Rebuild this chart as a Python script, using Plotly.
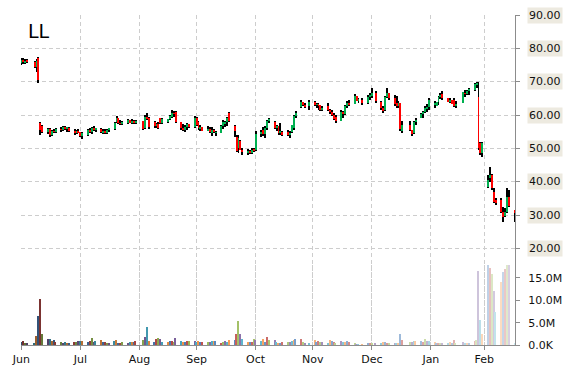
import pandas as pd
import plotly.graph_objects as go

# ---------------- data ----------------
TICKER = "LL"
HOLIDAYS = ["2014-07-04", "2014-09-01", "2014-11-27", "2014-12-25",
            "2015-01-01", "2015-01-19", "2015-02-16"]
dates = pd.bdate_range("2014-06-30", "2015-03-16", freq="C", holidays=HOLIDAYS)

open_ = [
    75.5, 76.6, 75.8, 76.3,
    76.0, 74.4, 77.0, 57.5, 56.8,
    55.0, 55.8, 54.0, 55.2, 54.9,
    55.8, 55.5, 56.3, 55.8, 56.2,
    55.3, 54.5, 55.2, 54.8, 53.8,
    54.0, 55.5, 54.8, 56.0, 55.5,
    55.9, 54.8, 55.3, 54.6, 55.5,
    55.9, 57.8, 59.0, 57.5, 57.3,
    57.7, 58.4, 57.7, 58.2, 57.6,
    58.2, 56.0, 59.5, 59.0,
    58.0, 56.6, 57.4, 59.0, 57.6,
    57.8, 58.7, 59.3, 60.6, 61.0,
    57.9, 56.0, 55.4, 56.5, 57.2,
    56.5, 59.2, 57.8, 56.0, 56.3,
    55.3, 55.8, 54.6, 55.4, 54.6,
    54.7, 56.8, 57.5, 57.8, 60.5,
    56.8, 53.5, 50.1, 52.1, 49.6,
    48.8, 49.2, 48.6, 49.5, 49.4,
    54.4, 55.5, 54.2, 56.0, 58.3,
    58.0, 56.2, 56.6, 54.6, 55.0,
    55.0, 54.0, 54.8, 56.0, 59.6,
    62.3, 63.8, 63.0, 62.6,
    64.0, 63.0, 63.2, 63.0, 61.4,
    62.6, 61.5, 61.0, 60.0, 59.4,
    58.3, 60.8, 60.2, 62.6, 63.6,
    63.4, 65.6, 64.3, 64.6,
    63.6, 65.5, 65.8, 66.5,
    64.0, 62.0, 61.5, 65.3, 66.6,
    65.0, 63.5, 62.6, 63.5, 55.3,
    57.0, 55.4, 54.6, 57.8,
    59.1, 60.4, 60.8, 62.0, 62.3,
    63.0, 62.7, 63.8, 65.4, 66.3,
    65.0, 64.0, 64.5, 64.5, 62.8,
    63.6, 66.5, 66.3, 67.3,
    67.6, 69.2, 65.5, 51.5, 48.5,
    38.5, 41.0, 42.0, 37.0, 34.5,
    34.5, 31.0, 29.6, 31.0, 35.5,
    31.5,
]
high = [
    77.0, 77.0, 76.8, 76.9,
    76.2, 76.7, 77.5, 58.0, 57.0,
    56.2, 56.0, 55.5, 55.8, 56.0,
    56.5, 56.7, 56.8, 56.5, 56.4,
    55.7, 55.6, 55.7, 55.0, 54.8,
    55.8, 56.0, 56.5, 56.7, 56.2,
    56.0, 55.7, 55.7, 55.8, 56.1,
    57.9, 59.6, 59.2, 58.4, 58.1,
    58.8, 58.6, 58.8, 58.4, 58.6,
    58.3, 60.0, 60.6, 59.3,
    58.1, 57.6, 57.8, 59.1, 59.1,
    58.9, 60.1, 61.4, 61.2, 61.2,
    57.9, 57.4, 57.1, 57.6, 57.4,
    59.6, 59.4, 58.1, 57.1, 56.4,
    56.6, 56.4, 56.4, 55.8, 55.1,
    57.1, 58.4, 58.2, 59.4, 60.8,
    57.0, 54.0, 54.1, 52.4, 50.1,
    49.8, 49.5, 50.1, 50.0, 55.1,
    55.5, 56.5, 56.8, 58.6, 59.1,
    58.1, 57.1, 56.8, 57.6, 55.1,
    55.6, 55.1, 57.1, 60.0, 61.3,
    64.6, 64.0, 63.6, 64.6,
    64.1, 63.6, 63.6, 63.1, 62.6,
    63.6, 61.8, 61.6, 60.7, 60.0,
    61.6, 61.3, 63.0, 64.3, 64.6,
    66.3, 65.8, 65.1, 65.1,
    66.1, 66.6, 68.1, 67.1,
    64.1, 62.6, 65.6, 68.1, 66.6,
    66.1, 65.6, 64.1, 63.6, 58.1,
    58.1, 55.6, 58.1, 59.1,
    60.6, 61.1, 62.6, 63.3, 65.1,
    64.1, 63.9, 65.6, 66.6, 67.1,
    65.2, 65.0, 64.6, 65.2, 64.2,
    67.0, 67.5, 67.5, 68.2,
    69.5, 70.0, 70.0, 52.0, 52.0,
    42.0, 44.5, 42.2, 38.0, 35.0,
    35.0, 32.5, 32.0, 38.0, 37.5,
    31.6,
]
low = [
    75.0, 75.3, 75.2, 75.5,
    74.0, 73.0, 69.7, 54.0, 54.5,
    54.3, 53.5, 53.8, 54.6, 54.6,
    55.0, 55.2, 55.4, 55.0, 55.0,
    54.0, 54.2, 54.5, 53.5, 52.7,
    53.6, 54.5, 54.3, 55.2, 54.8,
    54.5, 54.2, 54.3, 54.3, 54.8,
    55.6, 57.6, 57.2, 57.0, 56.9,
    57.3, 57.5, 57.2, 57.4, 57.3,
    55.4, 55.8, 58.5, 55.8,
    56.2, 56.0, 55.8, 57.2, 57.4,
    57.5, 58.4, 59.1, 59.5, 57.6,
    55.6, 55.1, 54.8, 55.4, 56.1,
    56.1, 56.8, 55.6, 55.1, 55.1,
    55.1, 54.6, 53.6, 54.6, 53.6,
    54.6, 55.8, 56.4, 56.6, 57.8,
    53.4, 49.0, 48.6, 49.4, 48.1,
    48.1, 48.3, 48.4, 48.8, 49.1,
    53.5, 53.6, 53.1, 55.6, 57.6,
    55.8, 55.1, 54.1, 54.1, 53.6,
    53.6, 53.1, 54.6, 55.6, 59.1,
    62.1, 62.6, 62.1, 61.6,
    62.6, 62.1, 61.6, 61.1, 61.1,
    61.2, 60.2, 59.6, 58.5, 57.6,
    58.2, 59.0, 60.0, 62.1, 62.6,
    63.3, 64.1, 63.6, 63.1,
    63.3, 64.6, 65.1, 63.6,
    61.6, 60.6, 61.3, 65.1, 64.6,
    62.6, 62.1, 62.1, 55.3, 54.6,
    55.1, 53.8, 54.4, 57.1,
    59.0, 59.1, 60.6, 60.9, 61.6,
    62.1, 62.6, 63.1, 64.9, 64.6,
    63.8, 63.5, 63.2, 62.5, 62.0,
    63.5, 65.5, 66.0, 66.0,
    67.3, 68.0, 49.5, 48.0, 47.5,
    38.2, 40.0, 37.5, 33.5, 33.0,
    30.5, 28.0, 29.5, 30.5, 32.5,
    28.0,
]
close = [
    76.6, 75.8, 76.3, 76.0,
    74.4, 76.2, 70.5, 55.5, 55.0,
    55.8, 54.0, 55.2, 54.9, 55.8,
    55.5, 56.3, 55.8, 56.2, 55.3,
    54.5, 55.2, 54.8, 53.8, 54.5,
    55.5, 54.8, 56.0, 55.5, 55.9,
    54.8, 55.3, 54.6, 55.5, 55.9,
    57.6, 59.0, 57.5, 57.3, 57.7,
    58.4, 57.7, 58.2, 57.6, 58.2,
    55.8, 59.5, 59.0, 56.5,
    56.6, 57.2, 56.2, 57.5, 58.8,
    58.7, 59.6, 60.6, 60.3, 57.9,
    56.0, 55.4, 56.5, 57.2, 56.5,
    59.2, 57.0, 56.0, 56.2, 55.3,
    55.8, 54.8, 55.4, 54.8, 54.7,
    56.8, 58.0, 57.8, 59.0, 58.2,
    55.1, 49.2, 53.1, 49.6, 48.8,
    49.2, 48.6, 49.5, 49.4, 54.4,
    54.8, 54.2, 56.0, 58.3, 58.6,
    56.2, 56.5, 54.6, 55.0, 54.0,
    54.0, 54.6, 56.9, 59.6, 60.6,
    63.8, 63.0, 62.4, 64.0,
    63.0, 63.2, 62.8, 61.4, 62.2,
    61.5, 61.0, 60.0, 58.8, 58.2,
    60.8, 60.2, 62.6, 63.6, 63.2,
    65.6, 64.3, 64.6, 63.6,
    65.5, 65.8, 66.5, 64.2,
    62.0, 61.2, 65.3, 66.6, 65.0,
    63.2, 62.6, 63.5, 55.8, 57.0,
    55.4, 54.4, 57.8, 58.5,
    60.4, 60.8, 62.0, 62.4, 64.5,
    63.6, 63.8, 65.4, 66.0, 65.0,
    64.0, 64.3, 63.4, 62.8, 63.0,
    66.8, 66.3, 67.3, 67.6,
    69.2, 69.6, 50.2, 48.5, 51.5,
    40.5, 42.0, 38.0, 34.0, 33.5,
    31.0, 29.5, 31.0, 35.5, 32.8,
    30.5,
]
volume_m = [  # millions of shares
    0.6, 0.8, 0.4, 0.5,
    0.4, 2.0, 6.5, 10.4, 2.4,
    1.3, 1.3, 1.0, 1.1, 0.7,
    0.7, 0.5, 0.7, 0.5, 0.5,
    0.7, 0.7, 0.9, 0.9, 0.8,
    0.7, 1.0, 1.6, 0.7, 0.9,
    1.2, 0.7, 0.7, 0.5, 0.5,
    0.9, 1.2, 0.5, 0.5, 0.7,
    0.5, 0.7, 0.7, 0.7, 1.0,
    1.1, 1.7, 4.0, 0.9,
    0.7, 1.3, 1.5, 1.3, 0.7,
    0.7, 0.9, 0.9, 0.7, 1.5,
    0.9, 0.7, 0.7, 0.9, 0.9,
    0.9, 0.7, 0.9, 0.7, 0.7,
    0.7, 0.7, 0.9, 0.9, 0.9,
    0.5, 0.7, 1.0, 0.7, 1.2,
    1.2, 2.4, 5.4, 2.4, 1.3,
    0.7, 0.7, 0.7, 1.3, 1.1,
    0.9, 1.3, 0.7, 1.8, 1.1,
    1.1, 0.7, 0.5, 0.5, 0.7,
    0.7, 0.7, 0.9, 1.1, 1.3,
    1.3, 0.7, 0.4, 0.5,
    1.1, 0.7, 0.9, 0.7, 0.7,
    0.4, 1.1, 0.9, 0.7, 0.4,
    0.9, 0.7, 0.7, 0.9, 0.6,
    0.4, 0.2, 0.2, 0.2,
    0.3, 0.3, 0.3, 0.4,
    0.5, 0.7, 0.7, 0.5, 0.5,
    0.4, 0.5, 0.4, 2.4, 1.1,
    0.7, 0.7, 0.9, 0.9,
    0.9, 0.7, 1.3, 0.9, 0.9,
    0.7, 0.4, 0.4, 0.4, 0.4,
    0.4, 0.7, 0.4, 1.1, 0.4,
    0.7, 0.4, 0.4, 0.4,
    0.9, 1.1, 16.6, 5.7, 2.5,
    18.0, 17.3, 15.9, 12.1, 7.4,
    14.2, 16.4, 17.0, 18.0, 18.0,
    0.5,
]

month_ticks = ["2014-06-30", "2014-07-31", "2014-08-31", "2014-09-30", "2014-10-31",
               "2014-11-30", "2014-12-31", "2015-01-31", "2015-02-28"]
price_ticks = [20, 30, 40, 50, 60, 70, 80, 90]
volume_ticks = [0, 5e6, 10e6, 15e6]
volume_tick_labels = ["0.0K", "5.0M", "10.0M", "15.0M"]

# ---------------- styling helpers ----------------
DAY = 86400000
FONT = "DejaVu Sans"
UP, DOWN = "#00B050", "#FF0000"
PALETTE = ["#4F81BD", "#C0504D", "#9BBB59", "#8064A2", "#4BACC6", "#F79646"]


def shade(hex_color, t):
    r, g, b = (int(hex_color[i:i + 2], 16) for i in (1, 3, 5))
    if t < 0:
        r, g, b = (c * (1 + t) for c in (r, g, b))
    else:
        r, g, b = (c + (255 - c) * t for c in (r, g, b))
    return "rgb(%d,%d,%d)" % (r, g, b)


n = len(dates)
vol_colors = [shade(PALETTE[i % 6], -0.4 + 1.1 * i / (n - 1)) for i in range(n)]
body_base = [min(o, c) for o, c in zip(open_, close)]
body_len = [max(abs(c - o), 0.3) for o, c in zip(open_, close)]
body_col = [UP if c >= o else DOWN for o, c in zip(open_, close)]
wick_len = [h - l for h, l in zip(high, low)]
volume = [v * 1e6 for v in volume_m]

fig = go.Figure()
fig.add_trace(go.Bar(x=dates, y=wick_len, base=low, width=0.5 * DAY, offset=-0.25 * DAY,
                     marker=dict(color="#000000", line=dict(width=0)), yaxis="y"))
fig.add_trace(go.Bar(x=dates, y=body_len, base=body_base, width=0.5 * DAY, offset=-0.25 * DAY,
                     marker=dict(color=body_col, line=dict(width=0)), yaxis="y"))
fig.add_trace(go.Bar(x=dates, y=volume, width=0.7 * DAY,
                     marker=dict(color=vol_colors, line=dict(width=0)), yaxis="y2"))

grid = dict(gridcolor="#CDCDCD", griddash="4px,3px", gridwidth=1)
axis_col = "#8C8C8C"
tick_font = dict(family=FONT, size=11, color="#111111")

fig.update_layout(
    template="none",
    width=570, height=370,
    margin=dict(l=21, r=55, t=15, b=25, pad=0, autoexpand=False),
    paper_bgcolor="white", plot_bgcolor="rgba(0,0,0,0)",
    font=dict(family=FONT, size=11, color="#111111"),
    showlegend=False, barmode="overlay", bargap=0,
    xaxis=dict(type="date", range=["2014-06-29 20:00", "2015-03-16 04:00"],
               tickvals=month_ticks, tickformat="%b", tickfont=tick_font, automargin=False,
               showgrid=True, **grid, showline=True, linecolor=axis_col, linewidth=1,
               ticks="outside", ticklen=4, tickcolor=axis_col, anchor="y", zeroline=False),
    yaxis=dict(domain=[0, 1], range=[-9, 90], side="right", tickvals=price_ticks,
               showticklabels=False, showgrid=True, **grid, zeroline=False, automargin=False,
               showline=True, linecolor=axis_col, linewidth=1,
               ticks="outside", ticklen=4, tickcolor=axis_col, anchor="x"),
    yaxis2=dict(domain=[0, 80 / 330], range=[0, 17.9e6], side="right", anchor="x",
                tickvals=volume_ticks, ticktext=volume_tick_labels, tickfont=tick_font,
                showgrid=False, zeroline=False, showline=False, automargin=False,
                ticks="outside", ticklen=4, tickcolor=axis_col, ticklabelstandoff=6),
)

for p in price_ticks:
    fig.add_annotation(x=1.0253, xref="paper", xanchor="left", y=p, yref="y", yanchor="middle",
                       text="%.2f" % p, showarrow=False, bgcolor="#EDEAE0", borderpad=1,
                       font=dict(family=FONT, size=11, color="#111111"))

fig.add_annotation(x=0.010, xref="paper", xanchor="left", y=0.990, yref="paper", yanchor="top",
                   text=TICKER, showarrow=False, font=dict(family=FONT, size=19, color="#000000"))

fig.write_html("out.html", config={"displayModeBar": False},
               post_script="document.body.style.margin='0';")
